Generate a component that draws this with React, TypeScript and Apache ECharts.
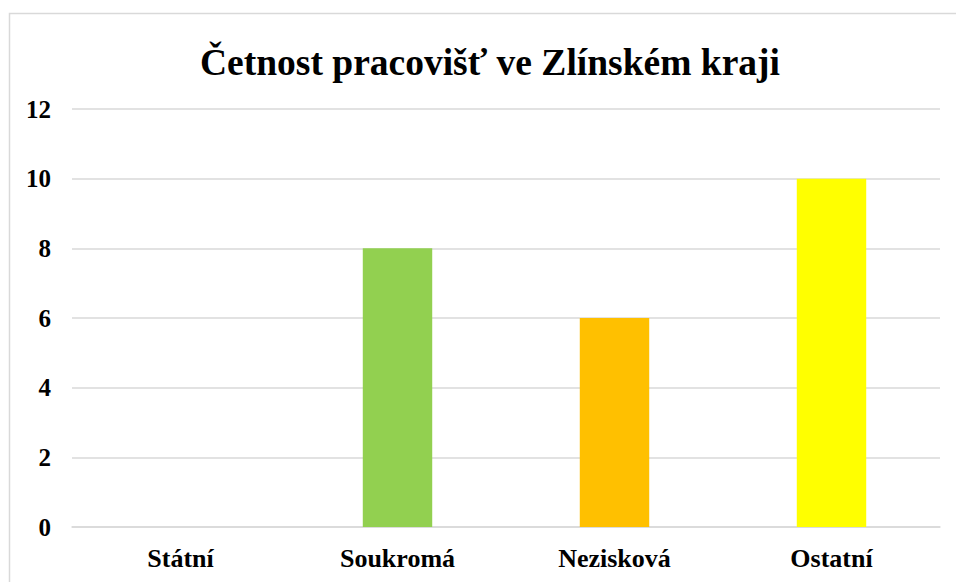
import React, { useEffect, useRef } from "react";
import * as echarts from "echarts";

const categories = ["Státní", "Soukromá", "Nezisková", "Ostatní"];
const values = [0, 8, 6, 10];
const barColors = ["#4472C4", "#92D050", "#FFC000", "#FFFF00"];
const titleText = "Četnost pracovišť ve Zlínském kraji";

export default function App() {
  const ref = useRef<HTMLDivElement>(null);
  useEffect(() => {
    if (!ref.current) return;
    const chart = echarts.init(ref.current, undefined, { renderer: "svg" });
    const font = "'Liberation Serif', 'Times New Roman', serif";
    chart.setOption({
      animation: false,
      backgroundColor: "#ffffff",
      title: {
        text: titleText,
        left: 195,
        top: 38,
        textStyle: { fontFamily: font, fontWeight: "bold", fontSize: 37.5, color: "#000" },
      },
      graphic: [
        {
          type: "rect",
          shape: { x: 9.5, y: 13.5, width: 960, height: 600 },
          style: { fill: "none", stroke: "#d9d9d9", lineWidth: 1.5 },
          silent: true,
        },
      ],
      grid: { left: 72, right: 16, top: 109, bottom: 55, containLabel: false },
      xAxis: {
        type: "category",
        data: categories,
        axisLine: { show: true, lineStyle: { color: "#d9d9d9", width: 1.5 } },
        axisTick: { show: false },
        axisLabel: {
          fontFamily: font,
          fontWeight: "bold",
          fontSize: 26,
          color: "#000",
          margin: 18,
        },
      },
      yAxis: {
        type: "value",
        min: 0,
        max: 12,
        interval: 2,
        axisLine: { show: false },
        axisTick: { show: false },
        splitLine: { lineStyle: { color: "#d9d9d9", width: 1.5 } },
        axisLabel: {
          fontFamily: font,
          fontWeight: "bold",
          fontSize: 25,
          color: "#000",
          margin: 21,
        },
      },
      series: [
        {
          type: "bar",
          data: values.map((v, i) => ({ value: v, itemStyle: { color: barColors[i] } })),
          barWidth: "32%",
        },
      ],
    });
    return () => chart.dispose();
  }, []);
  return (
    <div
      ref={ref}
      style={{ position: "fixed", left: 0, top: 0, width: 956, height: 582 }}
    />
  );
}
